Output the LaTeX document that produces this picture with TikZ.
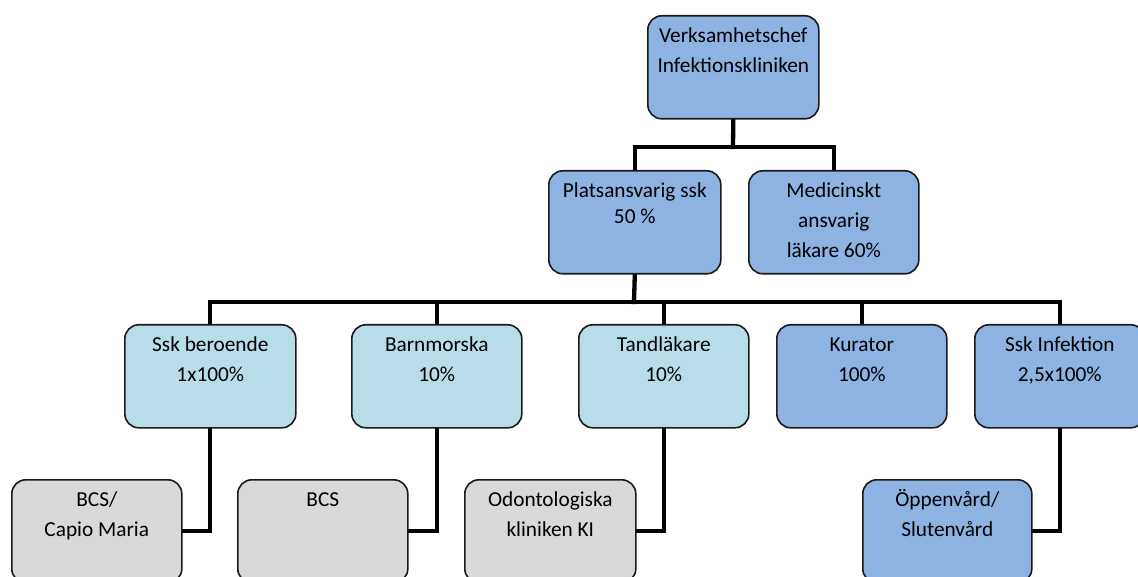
\documentclass[tikz,border=0pt]{standalone}
\usepackage{fontspec}
\setmainfont{Carlito}
\usetikzlibrary{backgrounds}
\definecolor{bblue}{HTML}{8DB3E2}
\definecolor{bteal}{HTML}{B7DEE8}
\definecolor{bgray}{HTML}{D9D9D9}
\definecolor{bline}{HTML}{1A1A1A}
\newcommand\bxt[2]{\parbox[t][103pt][t]{#1}{\centering\fontsize{21.3}{30}\selectfont\rule{0pt}{27pt}#2}}
\tikzset{
  box/.style={draw=bline, line width=1.6pt, rounded corners=14pt, inner sep=0pt, anchor=north west},
  conn/.style={draw=black, line width=4.3pt, line cap=rect}
}
\begin{document}
\begin{tikzpicture}[x=1pt,y=-1pt]
\useasboundingbox (0,0) rectangle (1138,577);
\begin{scope}
\clip (0,0) rectangle (1138,577);
% level 1
\node[box, fill=bblue] (vc) at (647,15) {\bxt{171pt}{Verksamhetschef\\Infektionskliniken}};
% level 2
\node[box, fill=bblue] (pa) at (548,170) {\bxt{172pt}{Platsansvarig ssk\\[-4pt]50 \%}};
\node[box, fill=bblue] (ma) at (748,170) {\bxt{170pt}{Medicinskt\\ansvarig\\läkare 60\%}};
% level 3
\node[box, fill=bteal] (sb) at (124,324) {\bxt{171pt}{Ssk beroende\\1x100\%}};
\node[box, fill=bteal] (bm) at (351,324) {\bxt{170pt}{Barnmorska\\10\%}};
\node[box, fill=bteal] (tl) at (578,324) {\bxt{170pt}{Tandläkare\\10\%}};
\node[box, fill=bblue] (ku) at (776,324) {\bxt{170pt}{Kurator\\100\%}};
\node[box, fill=bblue] (si) at (974,324) {\bxt{170pt}{Ssk Infektion\\2,5x100\%}};
% level 4
\node[box, fill=bgray] (bc) at (11,479) {\bxt{170pt}{BCS/\\Capio Maria}};
\node[box, fill=bgray] (bcs) at (237,479) {\bxt{170pt}{BCS}};
\node[box, fill=bgray] (od) at (464,479) {\bxt{171pt}{Odontologiska\\kliniken KI}};
\node[box, fill=bblue] (op) at (862,479) {\bxt{169pt}{Öppenvård/\\Slutenvård}};
% connectors
\coordinate (j1) at (733,147);
\coordinate (j2) at (634,302);
\begin{pgfonlayer}{background}
\draw[conn] (vc.south) -- (j1);
\draw[conn] (pa.north) |- (j1) -| (ma.north);
\draw[conn] (pa.south) -- (j2);
\draw[conn] (sb.north) |- (j2) -| (si.north);
\foreach \n in {bm,tl,ku}{\draw[conn] (j2 -| \n.north) -- (\n.north);}
\draw[conn] (sb.south) |- (bc.east);
\draw[conn] (bm.south) |- (bcs.east);
\draw[conn] (tl.south) |- (od.east);
\draw[conn] (si.south) |- (op.east);
\end{pgfonlayer}
\end{scope}
\end{tikzpicture}
\end{document}
